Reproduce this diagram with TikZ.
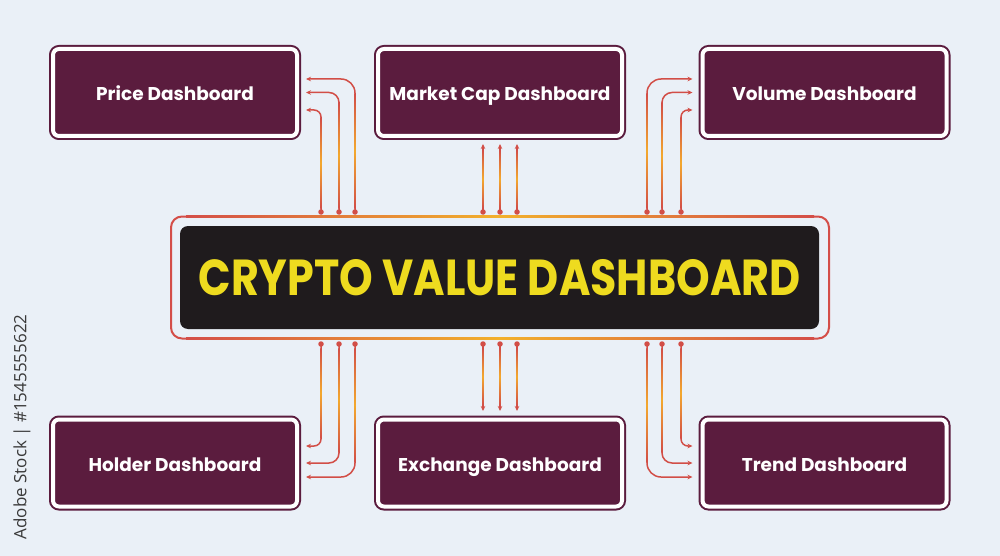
\documentclass[tikz,border=0pt]{standalone}
\usepackage{fontspec}
\usepackage{graphicx}
\setmainfont{Poppins}
\newfontfamily\sidefont{Open Sans}
\usetikzlibrary{arrows.meta,calc}
\definecolor{bg}{HTML}{EAF0F7}
\definecolor{maroon}{HTML}{5B1C3E}
\definecolor{titlebg}{HTML}{1F1B1D}
\definecolor{titlefg}{HTML}{EEDB1F}
\definecolor{conn}{HTML}{D24E47}
\definecolor{connmid}{HTML}{F3A92E}
\definecolor{frameclr}{HTML}{D44E48}
\definecolor{framemid}{HTML}{F2B02C}
\definecolor{sidegray}{HTML}{3A3A3A}
\tikzset{
  dashbox/.style={draw=maroon, fill=maroon, line width=2pt, double=white, double distance=4pt,
    rounded corners=6pt, minimum width=244pt, minimum height=87pt, inner sep=0pt,
    text=white, font=\bfseries\fontsize{18.5}{22}\selectfont, text height=16pt, text depth=0pt},
  titlebox/.style={fill=titlebg, rounded corners=8pt, minimum width=639pt, minimum height=103pt,
    inner sep=0pt, text=titlefg, font=\bfseries},
  framebox/.style={draw=frameclr, line width=2pt, rounded corners=11pt, minimum width=658pt,
    minimum height=122pt, inner sep=0pt},
  connector/.style={draw=conn, line width=1.5pt, -{Stealth[length=5pt,width=4.5pt]}},
  dotnode/.style={circle, fill=conn, inner sep=0pt, minimum size=5.5pt},
  gradstrip/.style={top color=conn, bottom color=conn, middle color=connmid},
  framestrip/.style={left color=frameclr, right color=frameclr, middle color=framemid},
}
\newcommand\vgrad[3]{\shade[gradstrip] ({#1-0.75},#2) rectangle ({#1+0.75},#3);}
\begin{document}
\begin{tikzpicture}[x=1pt,y=-1pt]
\fill[bg] (0,0) rectangle (1000,556);
\useasboundingbox (0,0) rectangle (1000,556);

% side text
\node[rotate=90, text=sidegray, font=\sidefont\fontsize{17}{19}\selectfont, inner sep=0pt] (side) at (22,427) {Adobe Stock | \#1545555622};

% dashboards
\node[dashbox] (price)  at (175,92.5)   {Price Dashboard};
\node[dashbox] (mcap)   at (500,92.5)   {Market Cap Dashboard};
\node[dashbox] (vol)    at (824.5,92.5) {Volume Dashboard};
\node[dashbox] (holder) at (175,463)    {Holder Dashboard};
\node[dashbox] (exch)   at (500,463)    {Exchange Dashboard};
\node[dashbox] (trend)  at (824.5,463)  {Trend Dashboard};

% central
\node[framebox] (frame) at (500,277.5) {};
\shade[framestrip] (186,215.5) rectangle (814,217.5);
\shade[framestrip] (186,337.5) rectangle (814,339.5);
\node[titlebox] (title) at (499.5,277.5) {\resizebox{602pt}{36pt}{CRYPTO VALUE DASHBOARD}};

% dots
\foreach \x/\n in {321/a1,339/a2,355/a3,483/b1,500/b2,517/b3,647/c1,662/c2,681/c3}{
  \node[dotnode] (t\n) at (\x,212) {};
  \node[dotnode] (u\n) at (\x,344) {};
}

\coordinate (mcapin) at ($(mcap.south)+(0,7)$);
\coordinate (exchin) at ($(exch.north)+(0,-7.5)$);

% top left
\draw[connector, rounded corners=7pt]  (ta1.center) |- ($(price.east)+(8,17.5)$);
\draw[connector, rounded corners=10pt] (ta2.center) |- ($(price.east)+(8,0)$);
\draw[connector, rounded corners=14pt] (ta3.center) |- ($(price.east)+(8,-13.5)$);
% top middle
\draw[connector] (tb1.center) -- (tb1.center |- mcapin);
\draw[connector] (tb2.center) -- (tb2.center |- mcapin);
\draw[connector] (tb3.center) -- (tb3.center |- mcapin);
% top right
\draw[connector, rounded corners=14pt] (tc1.center) |- ($(vol.west)+(-9,-13.5)$);
\draw[connector, rounded corners=10pt] (tc2.center) |- ($(vol.west)+(-9,0)$);
\draw[connector, rounded corners=7pt]  (tc3.center) |- ($(vol.west)+(-9,17.5)$);
% bottom left
\draw[connector, rounded corners=7pt]  (ua1.center) |- ($(holder.east)+(8,-17)$);
\draw[connector, rounded corners=10pt] (ua2.center) |- ($(holder.east)+(8,0)$);
\draw[connector, rounded corners=14pt] (ua3.center) |- ($(holder.east)+(8,14)$);
% bottom middle
\draw[connector] (ub1.center) -- (ub1.center |- exchin);
\draw[connector] (ub2.center) -- (ub2.center |- exchin);
\draw[connector] (ub3.center) -- (ub3.center |- exchin);
% bottom right
\draw[connector, rounded corners=14pt] (uc1.center) |- ($(trend.west)+(-9,14)$);
\draw[connector, rounded corners=10pt] (uc2.center) |- ($(trend.west)+(-9,0)$);
\draw[connector, rounded corners=7pt]  (uc3.center) |- ($(trend.west)+(-9,-17)$);

% colour gradient along the vertical runs
\vgrad{321}{208}{118} \vgrad{339}{208}{103} \vgrad{355}{208}{94}
\vgrad{483}{208}{150} \vgrad{500}{208}{150} \vgrad{517}{208}{150}
\vgrad{647}{208}{94}  \vgrad{662}{208}{103} \vgrad{681}{208}{118}
\vgrad{321}{348}{438} \vgrad{339}{348}{452} \vgrad{355}{348}{462}
\vgrad{483}{348}{405} \vgrad{500}{348}{405} \vgrad{517}{348}{405}
\vgrad{647}{348}{462} \vgrad{662}{348}{452} \vgrad{681}{348}{438}
\end{tikzpicture}
\end{document}
